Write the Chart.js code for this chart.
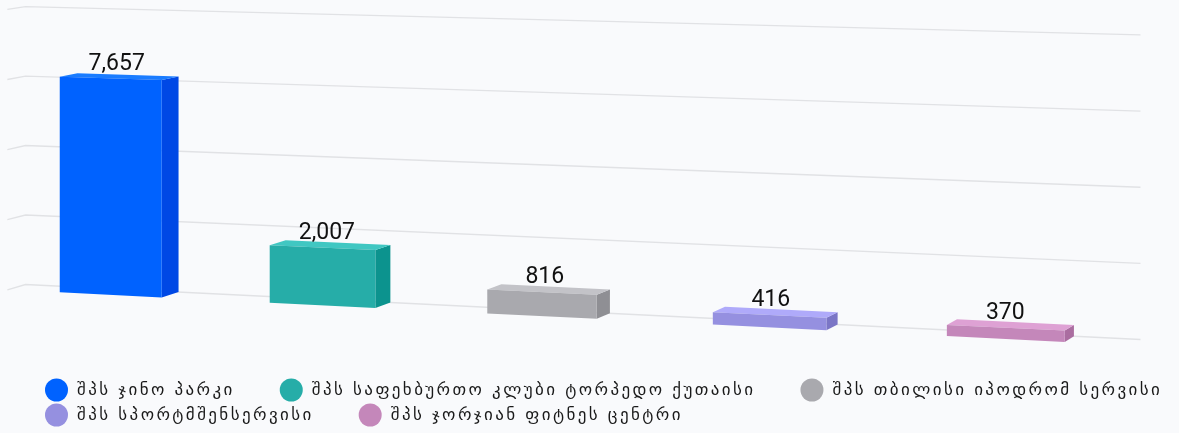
<!DOCTYPE html>
<html>
<head>
<meta charset="utf-8">
<script src="https://cdn.jsdelivr.net/npm/chart.js@4.4.1/dist/chart.umd.min.js"></script>
<style>
  html, body { margin: 0; padding: 0; background: #f9fafc; }
</style>
</head>
<body>
<canvas id="chart" width="1179" height="433"></canvas>
<script>
const categories = [
    "შპს ჯინო პარკი",
    "შპს საფეხბურთო კლუბი ტორპედო ქუთაისი",
    "შპს თბილისი იპოდრომ სერვისი",
    "შპს სპორტმშენსერვისი",
    "შპს ჯორჯიან ფიტნეს ცენტრი",
];
const values = [7657, 2007, 816, 416, 370];
const colors = ["#0062ff", "#26ada8", "#a9a9ae", "#9590e0", "#c487ba"];
const yMax = 10000;
const yStep = 2500;

const LEGEND_FONT = '17px "DejaVu Sans"';
const LABEL_FONT = '23px Roboto';

// screen-space perspective
const VPX = { x: -11773, y: -291 }; // horizontal lines meet here
const VPZ = { x: 2143, y: -328 };   // depth lines meet here
const DEPTH = 0.0085;

function project(fu, fv, back) {
    const dx = 1 / (8.4887e-5 - 7.3675e-6 * fu);
    let x = VPX.x + dx;
    let y = VPX.y + dx * (0.0493 - 0.0238 * fv);
    if (back) {
        x += (VPZ.x - x) * DEPTH * back;
        y += (VPZ.y - y) * DEPTH * back;
    }
    return { x, y };
}

function shade(hex, amt) {
    const n = parseInt(hex.slice(1), 16);
    const c = [n >> 16, (n >> 8) & 255, n & 255].map((v) => Math.max(0, Math.min(255, v + amt)));
    return `rgb(${c[0]}, ${c[1]}, ${c[2]})`;
}

function poly(ctx, pts, fill) {
    ctx.beginPath();
    ctx.moveTo(pts[0].x, pts[0].y);
    pts.slice(1).forEach((p) => ctx.lineTo(p.x, p.y));
    ctx.closePath();
    ctx.fillStyle = fill;
    ctx.fill();
}

const threeD = {
    id: "threeD",
    beforeDraw(chart) {
        const { ctx } = chart;
        ctx.save();
        ctx.fillStyle = "#f9fafc";
        ctx.fillRect(0, 0, chart.width, chart.height);
        ctx.restore();
    },
    afterDatasetsDraw(chart) {
        const { ctx, chartArea: a, scales } = chart;
        const fu = (px) => (px - a.left) / (a.right - a.left);
        const fv = (py) => (a.bottom - py) / (a.bottom - a.top);

        // grid lines on side and back wall
        ctx.save();
        ctx.strokeStyle = "#e1e2e5";
        ctx.lineWidth = 1.3;
        scales.y.ticks.forEach((t) => {
            const v = fv(scales.y.getPixelForValue(t.value));
            const f0 = project(0, v, 0);
            const b0 = project(0, v, 1);
            const b1 = project(1.004, v, 1);
            ctx.beginPath();
            ctx.moveTo(f0.x, f0.y);
            ctx.lineTo(b0.x, b0.y);
            ctx.lineTo(b1.x, b1.y);
            ctx.stroke();
        });

        // 3d bars
        const meta = chart.getDatasetMeta(0);
        meta.data.forEach((bar, i) => {
            const l = fu(bar.x - bar.width / 2);
            const r = fu(bar.x + bar.width / 2);
            const top = fv(bar.y);
            const base = fv(bar.base);
            const flt = project(l, top, 0), frt = project(r, top, 0);
            const flb = project(l, base, 0), frb = project(r, base, 0);
            const blt = project(l, top, 1), brt = project(r, top, 1);
            const brb = project(r, base, 1);
            poly(ctx, [frt, brt, brb, frb], shade(colors[i], -26));
            poly(ctx, [flt, blt, brt, frt], shade(colors[i], 26));
            poly(ctx, [flt, frt, frb, flb], colors[i]);

            // value label
            const mid = (l + r) / 2;
            const c = project(mid, top, 0.3);
            const cx = project(mid, top, 0).x + 7 - 8 * mid;
            ctx.font = LABEL_FONT;
            ctx.fillStyle = "#111";
            ctx.textAlign = "center";
            ctx.textBaseline = "alphabetic";
            ctx.fillText(values[i].toLocaleString("en-US"), cx, c.y - 7.5);
        });
        ctx.restore();
    },
    afterDraw(chart) {
        // legend, laid out like the original: two rows under the plot
        const { ctx } = chart;
        ctx.save();
        ctx.font = LEGEND_FONT;
        ctx.letterSpacing = "2.4px";
        ctx.textBaseline = "middle";
        ctx.textAlign = "left";
        let x = 45, row = 0;
        categories.forEach((name, i) => {
            const w = 32 + ctx.measureText(name).width;
            if (x + w > chart.width + 6 && x > 45) {
                x = 45;
                row++;
            }
            const cy = 390 + row * 25;
            ctx.beginPath();
            ctx.arc(x + 11.5, cy, 11.5, 0, Math.PI * 2);
            ctx.fillStyle = colors[i];
            ctx.fill();
            ctx.fillStyle = "#1a1a1a";
            ctx.fillText(name, x + 32, cy + 1);
            x += w + 45;
        });
        ctx.restore();
    },
};

new Chart(document.getElementById("chart"), {
    type: "bar",
    data: {
        labels: categories,
        datasets: [
            {
                data: values,
                backgroundColor: "rgba(0,0,0,0)",
                categoryPercentage: 1,
                barPercentage: 0.49,
            },
        ],
    },
    options: {
        responsive: false,
        animation: false,
        layout: { padding: { left: 20, right: 40, top: 20, bottom: 80 } },
        plugins: {
            legend: { display: false },
            tooltip: { enabled: false },
        },
        scales: {
            x: { display: false },
            y: {
                display: false,
                min: 0,
                max: yMax,
                ticks: { stepSize: yStep },
            },
        },
    },
    plugins: [threeD],
});
</script>
</body>
</html>
